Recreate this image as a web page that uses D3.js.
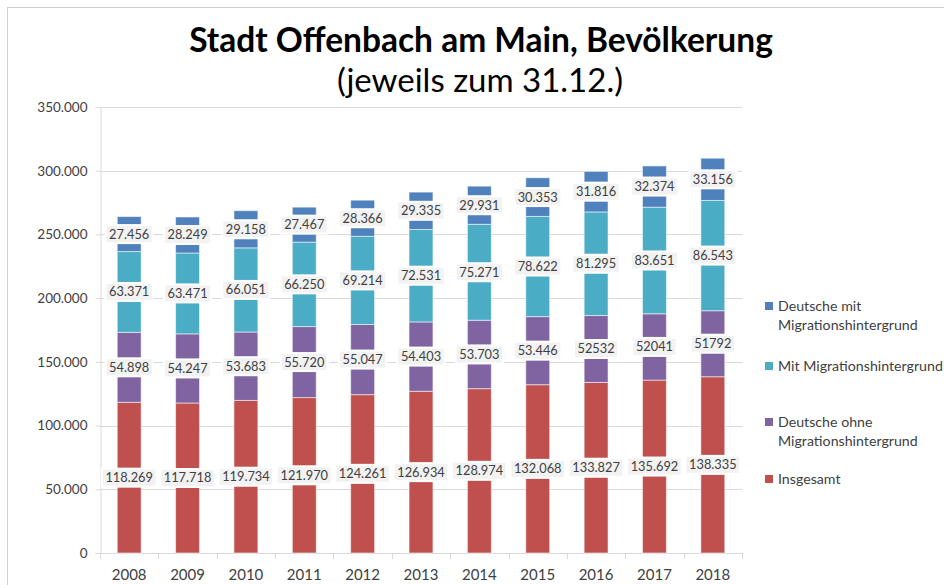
<!DOCTYPE html>
<html lang="de">
<head>
<meta charset="UTF-8">
<title>Stadt Offenbach am Main, Bevölkerung</title>
<script src="https://cdn.jsdelivr.net/npm/d3@7"></script>
<style>
  body { margin: 0; background: #fff; }
  svg { display: block; font-family: Lato, "Open Sans", sans-serif; }
</style>
</head>
<body>
<script>
// data
const years = ["2008", "2009", "2010", "2011", "2012", "2013", "2014", "2015", "2016", "2017", "2018"];
const insgesamt = [118269, 117718, 119734, 121970, 124261, 126934, 128974, 132068, 133827, 135692, 138335];
const deutscheOhne = [54898, 54247, 53683, 55720, 55047, 54403, 53703, 53446, 52532, 52041, 51792];
const mitMigration = [63371, 63471, 66051, 66250, 69214, 72531, 75271, 78622, 81295, 83651, 86543];
const deutscheMit = [27456, 28249, 29158, 27467, 28366, 29335, 29931, 30353, 31816, 32374, 33156];
// years where the purple labels are shown without thousands separator
const plainLabelYears = ["2016", "2017", "2018"];
const yTicks = [0, 50000, 100000, 150000, 200000, 250000, 300000, 350000];

const seriesNames = ["Insgesamt", "Deutsche ohne Migrationshintergrund", "Mit Migrationshintergrund", "Deutsche mit Migrationshintergrund"];
const seriesColors = ["#c0504d", "#8064a2", "#4bacc6", "#4f81bd"];

const width = 944, height = 585;
const de = d3.formatLocale({decimal: ",", thousands: ".", grouping: [3], currency: ["", "€"]});
const fmt = de.format(",d");

const svg = d3.select("body").append("svg").attr("width", width).attr("height", height);

// chart frame
svg.append("rect").attr("x", 7.5).attr("y", 7.5).attr("width", width).attr("height", height)
    .attr("fill", "none").attr("stroke", "#d0d0d0");

// titles
svg.append("text").attr("x", 481).attr("y", 52).attr("text-anchor", "middle")
    .attr("font-size", 33.5).attr("font-weight", "bold").attr("fill", "#000")
    .text("Stadt Offenbach am Main, Bevölkerung");
svg.append("text").attr("x", 480).attr("y", 92).attr("text-anchor", "middle")
    .attr("font-size", 33).attr("fill", "#000")
    .text("(jeweils zum 31.12.)");

// scales
const x = d3.scaleBand().domain(years).range([100, 742]).paddingInner(0.59).paddingOuter(0.295);
const y = d3.scaleLinear().domain([0, 350000]).range([553, 107]);

// gridlines
svg.append("g").selectAll("line").data(yTicks.slice(1)).join("line")
    .attr("x1", 100).attr("x2", 742)
    .attr("y1", d => Math.round(y(d)) + 0.5).attr("y2", d => Math.round(y(d)) + 0.5)
    .attr("stroke", "#d9d9d9");

// y axis
const yAxis = svg.append("g").attr("transform", "translate(100.5,0)")
    .call(d3.axisLeft(y).tickValues(yTicks).tickFormat(d => d === 0 ? "0" : fmt(d)).tickSize(5).tickPadding(8));
yAxis.select(".domain").attr("stroke", "#d9d9d9");
yAxis.selectAll(".tick line").attr("stroke", "#d9d9d9");
yAxis.selectAll(".tick text").attr("font-size", 13.5).attr("fill", "#404040").attr("font-family", "Lato, sans-serif");

// x axis
const step = x.step();
const bounds = years.map(d => x(d) - (step - x.bandwidth()) / 2).concat([742]);
const xg = svg.append("g");
xg.append("line").attr("x1", 100).attr("x2", 742).attr("y1", 553.5).attr("y2", 553.5).attr("stroke", "#d9d9d9");
xg.selectAll("line.tk").data(bounds).join("line").attr("class", "tk")
    .attr("x1", d => Math.round(d) + 0.5).attr("x2", d => Math.round(d) + 0.5)
    .attr("y1", 553).attr("y2", 559).attr("stroke", "#d9d9d9");
xg.selectAll("text").data(years).join("text")
    .attr("x", d => x(d) + x.bandwidth() / 2).attr("y", 580)
    .attr("text-anchor", "middle").attr("font-size", 15).attr("fill", "#404040")
    .text(d => d);

// stack
const table = years.map((yr, i) => ({
  year: yr, s0: insgesamt[i], s1: deutscheOhne[i], s2: mitMigration[i], s3: deutscheMit[i]
}));
const stacked = d3.stack().keys(["s0", "s1", "s2", "s3"])(table);

const layers = svg.append("g").selectAll("g").data(stacked).join("g")
    .attr("fill", (d, i) => seriesColors[i]);
layers.selectAll("rect").data(d => d).join("rect")
    .attr("x", d => x(d.data.year))
    .attr("width", x.bandwidth())
    .attr("y", d => y(d[1]))
    .attr("height", d => y(d[0]) - y(d[1]))
    .attr("stroke", "rgba(255,255,255,0.55)").attr("stroke-width", 1);

// data labels with boxes
const labelG = svg.append("g");
stacked.forEach((layer, li) => {
  layer.forEach(d => {
    const val = d[1] - d[0];
    const txt = (li === 1 && plainLabelYears.includes(d.data.year)) ? String(val) : fmt(val);
    const cx = x(d.data.year) + x.bandwidth() / 2;
    const cy = y((d[0] + d[1]) / 2);
    const g = labelG.append("g");
    const t = g.append("text").attr("x", cx).attr("y", cy + 4.5).attr("text-anchor", "middle")
        .attr("font-size", 12.8).attr("fill", "#404040").text(txt);
    const w = t.node().getComputedTextLength();
    g.insert("rect", "text").attr("x", cx - w / 2 - 4.5).attr("y", cy - 10).attr("width", w + 9).attr("height", 20)
        .attr("fill", "#fff");
    g.insert("rect", "text").attr("x", cx - w / 2 - 2.5).attr("y", cy - 8).attr("width", w + 5).attr("height", 16)
        .attr("fill", "#f2f2f2");
  });
});

// legend
const legendItems = [
  {lines: ["Deutsche mit", "Migrationshintergrund"], color: seriesColors[3], y: 306},
  {lines: ["Mit Migrationshintergrund"], color: seriesColors[2], y: 366},
  {lines: ["Deutsche ohne", "Migrationshintergrund"], color: seriesColors[1], y: 422},
  {lines: ["Insgesamt"], color: seriesColors[0], y: 479}
];
const lg = svg.append("g").selectAll("g").data(legendItems).join("g");
lg.append("rect").attr("x", 765).attr("y", d => d.y - 4).attr("width", 8).attr("height", 8).attr("fill", d => d.color);
lg.append("text").attr("font-size", 14.2).attr("fill", "#404040")
  .selectAll("tspan").data(d => d.lines.map((l, i) => ({l, i, y: d.y}))).join("tspan")
  .attr("x", 778).attr("y", d => d.y + 5 + d.i * 19).text(d => d.l);
</script>
</body>
</html>
